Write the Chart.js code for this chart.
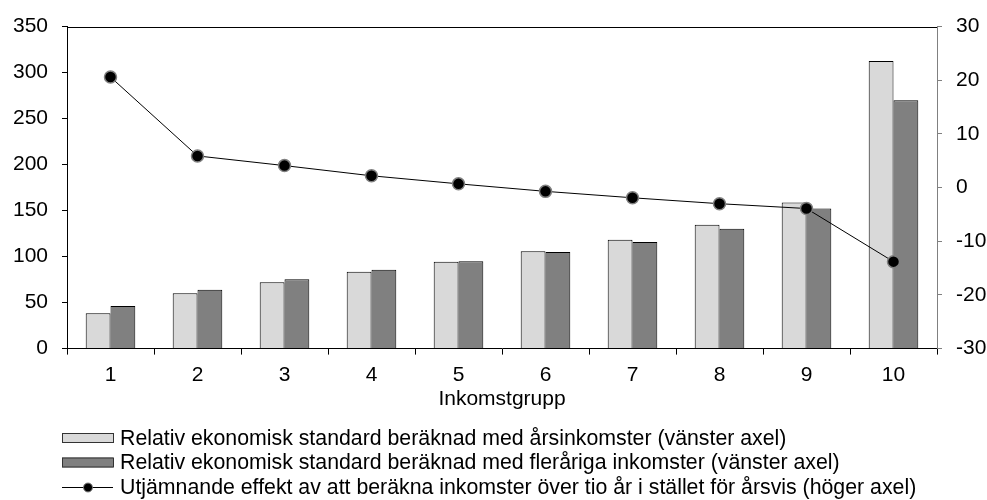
<!DOCTYPE html>
<html>
<head>
<meta charset="utf-8">
<script src="https://cdn.jsdelivr.net/npm/chart.js@4/dist/chart.umd.min.js"></script>
<style>
  html, body { margin: 0; padding: 0; background: #fff; }
  #wrap { width: 987px; height: 500px; position: relative; }
</style>
</head>
<body>
<div id="wrap"><canvas id="myChart"></canvas></div>
<script>
var groups = ["1", "2", "3", "4", "5", "6", "7", "8", "9", "10"];
var annualIncome = [38.5, 60.1, 72.0, 83.5, 94.3, 105.8, 118.4, 134.6, 158.7, 312.7];
var multiYearIncome = [46.4, 64.0, 75.3, 85.6, 95.0, 105.1, 115.9, 130.2, 152.3, 270.0];
var smoothingEffect = [20.6, 5.9, 4.1, 2.2, 0.7, -0.7, -1.9, -3.0, -3.9, -13.8];
var seriesNames = [
  "Relativ ekonomisk standard beräknad med årsinkomster (vänster axel)",
  "Relativ ekonomisk standard beräknad med fleråriga inkomster (vänster axel)",
  "Utjämnande effekt av att beräkna inkomster över tio år i stället för årsvis (höger axel)",
];
var xTitle = "Inkomstgrupp";

Chart.defaults.font.family = "'Liberation Sans', Arial, sans-serif";
Chart.defaults.font.size = 21;
Chart.defaults.color = "#000";

// top frame line + legend drawn under the axis
const frameAndLegend = {
  id: "frameAndLegend",
  afterDraw(chart) {
    const ctx = chart.ctx;
    const area = chart.chartArea;
    ctx.save();
    ctx.strokeStyle = "#000";
    ctx.lineWidth = 1;
    ctx.beginPath();
    ctx.moveTo(area.left, Math.round(area.top) + 0.5);
    ctx.lineTo(area.right, Math.round(area.top) + 0.5);
    ctx.stroke();

    const x0 = 62, w = 51;
    const rows = [438, 462.5, 487];
    ctx.font = "21.3px 'Liberation Sans', Arial, sans-serif";
    ctx.textBaseline = "middle";
    ctx.fillStyle = "#000";

    const ds = chart.data.datasets;
    // bars
    [ds[1], ds[2]].forEach(function (d, i) {
      const y = rows[i];
      ctx.fillStyle = d.backgroundColor;
      ctx.fillRect(x0, y - 5, w, 10);
      ctx.strokeStyle = "#333";
      ctx.strokeRect(x0 + 0.5, y - 4.5, w, 9);
      ctx.fillStyle = "#000";
      ctx.fillText(d.label, 120, y + 1);
    });
    // line
    const y = rows[2];
    ctx.strokeStyle = "#000";
    ctx.beginPath();
    ctx.moveTo(x0, y + 0.5);
    ctx.lineTo(x0 + w, y + 0.5);
    ctx.stroke();
    ctx.beginPath();
    ctx.arc(x0 + w / 2 + 0.5, y + 0.5, 4.5, 0, Math.PI * 2);
    ctx.fillStyle = "#000";
    ctx.fill();
    ctx.strokeStyle = "#808080";
    ctx.stroke();
    ctx.fillStyle = "#000";
    ctx.fillText(ds[0].label, 120, y + 1);
    ctx.restore();
  },
};

const data = {
  labels: groups,
  datasets: [
    {
      type: "line",
      label: seriesNames[2],
      data: smoothingEffect,
      yAxisID: "y2",
      borderColor: "#000",
      borderWidth: 1,
      pointRadius: 6,
      pointBackgroundColor: "#000",
      pointBorderColor: "#808080",
      pointBorderWidth: 1.5,
      order: 0,
    },
    {
      type: "bar",
      label: seriesNames[0],
      data: annualIncome,
      yAxisID: "y",
      backgroundColor: "#d9d9d9",
      borderColor: "#000",
      borderWidth: 1,
      categoryPercentage: 0.57,
      barPercentage: 1.0,
      order: 1,
    },
    {
      type: "bar",
      label: seriesNames[1],
      data: multiYearIncome,
      yAxisID: "y",
      backgroundColor: "#808080",
      borderColor: "#000",
      borderWidth: 1,
      categoryPercentage: 0.57,
      barPercentage: 1.0,
      order: 2,
    },
  ],
};

const config = {
  type: "bar",
  data: data,
  options: {
    responsive: true,
    maintainAspectRatio: false,
    animation: false,
    layout: { padding: { left: 0, right: 0, top: 23, bottom: 88 } },
    plugins: {
      legend: { display: false },
      tooltip: { enabled: false },
    },
    scales: {
      x: {
        offset: true,
        grid: { drawOnChartArea: false, color: "#000", tickLength: 6, offset: true },
        border: { color: "#000", width: 1 },
        ticks: { padding: 8 },
        title: { display: true, text: xTitle, padding: { top: -9, bottom: 0 } },
      },
      y: {
        position: "left",
        min: 0,
        max: 350,
        ticks: { stepSize: 50, padding: 14 },
        grid: { drawOnChartArea: false, color: "#000", tickLength: 5 },
        border: { color: "#000", width: 1 },
        afterFit: function (scale) { scale.width = 67; },
      },
      y2: {
        position: "right",
        min: -30,
        max: 30,
        ticks: { stepSize: 10, padding: 14 },
        grid: { drawOnChartArea: false, color: "#808080", tickLength: 5 },
        border: { color: "#808080", width: 1 },
        afterFit: function (scale) { scale.width = 50; },
      },
    },
  },
  plugins: [frameAndLegend],
};

const incomeChart = new Chart(document.getElementById("myChart"), config);
</script>
</body>
</html>
